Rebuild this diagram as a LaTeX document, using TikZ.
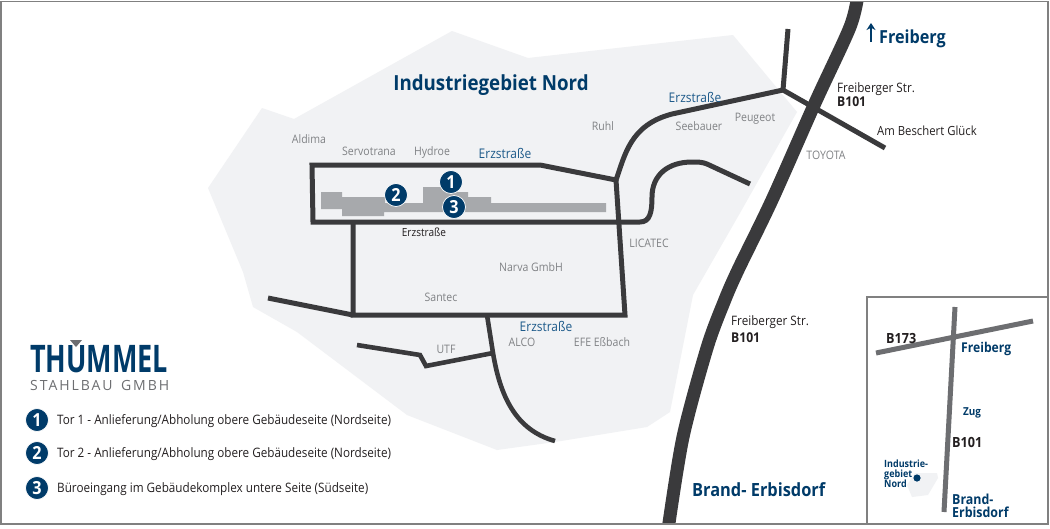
\documentclass[tikz,border=0pt]{standalone}
\usepackage{fontspec}
\usetikzlibrary{arrows.meta}
\setmainfont{Open Sans}[FakeStretch=0.9]
\newfontfamily\spaced{Open Sans}[LetterSpace=14,WordSpace=1.5]
\newfontfamily\logofont{Open Sans}
\definecolor{road}{HTML}{3A3A3C}
\definecolor{area}{HTML}{F1F2F4}
\definecolor{bldg}{HTML}{A7A9AC}
\definecolor{navy}{HTML}{003B69}
\definecolor{midblue}{HTML}{1D5A8A}
\definecolor{lab}{HTML}{808285}
\definecolor{ink}{HTML}{231F20}
\definecolor{frame}{HTML}{808080}
\definecolor{inset}{HTML}{6D6E71}
\newcommand{\fs}[1]{\fontsize{#1}{#1}\selectfont}
\tikzset{
 txt/.style={inner sep=0pt,text height=.72em,text depth=0pt},
 firm/.style={txt,text=lab,font=\fs{11.7},yshift=-.6pt},
 street/.style={txt,text=midblue,font=\fs{13.3},yshift=-1.2pt},
 dark/.style={txt,text=ink,font=\fs{13},anchor=west,yshift=-1.1pt},
 darkb/.style={txt,text=ink,font=\fs{13.5}\bfseries,anchor=west,yshift=-1.3pt},
 place/.style={txt,text=navy,font=\bfseries,anchor=west},
 legend/.style={txt,text=ink,font=\fs{13},anchor=west,yshift=-1.1pt},
 rd/.style={draw=road,line width=5pt,line join=miter},
 ir/.style={draw=inset,line width=5pt},
 num/.style={circle,fill=navy,draw=white,line width=.7pt,minimum size=23pt,inner sep=0pt,text=white,font=\fs{18}\bfseries},
}
\begin{document}
\begin{tikzpicture}[x=1pt,y=-1pt]
\useasboundingbox (0,0) rectangle (1050,528);
\fill[white] (0,0) rectangle (1050,528);
% industrial area
\fill[area] (452,31) -- (528,58) -- (733,35) -- (797,112) -- (740,213) -- (693,295) -- (670,412) -- (647,427) -- (555,442) -- (497,450) -- (407,415) -- (297,332) -- (253,307) -- (243,272) -- (208,188) -- (262,108) -- (294,119) -- cycle;
% building
\fill[bldg] (321,192) -- (342,192) -- (342,197) -- (385,197) -- (385,203) -- (423,203) -- (423,187) -- (452,187) -- (452,192) -- (468,192) -- (468,197) -- (491,197) -- (491,203) -- (606,203) -- (606,212) -- (384,212) -- (384,216) -- (342,216) -- (342,209) -- (321,209) -- cycle;
% roads
\coordinate (j1) at (616,180);
\coordinate (j2) at (783,90);
\coordinate (j3) at (353,315);
\coordinate (j4) at (625,315);
\coordinate (j5) at (353,222);
\coordinate (j6) at (493,353);
\draw[rd] (j1) -- (540,165) -- (312,165) -- (313,222) -- (640,222) .. controls (650,222) and (652,212) .. (652,197) .. controls (652,175) and (668,162) .. (692,162) .. controls (698,162) and (702,162) .. (707,164) -- (750,184);
\draw[rd] (j1) -- (j4) -- (j3) -- (j5);
\draw[rd] (268,298) -- (j3);
\draw[rd] (j1) .. controls (625,155) and (630,125) .. (672,114) -- (j2);
\draw[rd] (788,29) -- (j2) -- (885,148);
\draw[rd,line width=4.6pt] (487,315) -- (j6) .. controls (500,395) and (515,430) .. (555,441);
\draw[rd,line width=4.6pt] (357,345) -- (420,355) -- (426,366) -- (j6);
\begin{scope}
\clip (1,1.5) rectangle (1048,524);
\draw[draw=road,line width=13pt] plot[smooth,tension=.5] coordinates {(858,-6) (850,27) (815,103) (772,200) (738,270) (724,302) (707,348) (683,437) (668,530)};
\end{scope}
% frame
\draw[frame,line width=1.4pt] (1,1.5) rectangle (1048,524);
\draw[frame,line width=1.4pt] (867,297) rectangle (1048,524);
% top labels
\node[txt,text=navy,font=\fs{20.8}\bfseries,yshift=-3.9pt] (title) at (491,83) {Industriegebiet Nord};
\node[firm] (f1) at (309,139) {Aldima};
\node[firm] (f2) at (369,151) {Servotrana};
\node[firm] (f3) at (432,151) {Hydroe};
\node[firm] (f4) at (603,126) {Ruhl};
\node[firm] (f5) at (699,126) {Seebauer};
\node[firm] (f6) at (755,117) {Peugeot};
\node[firm] (f7) at (826,155) {TOYOTA};
\node[firm] (f8) at (649,243) {LICATEC};
\node[firm] (f9) at (531,267) {Narva GmbH};
\node[firm] (f10) at (441,297) {Santec};
\node[firm] (f11) at (446,349) {UTF};
\node[firm] (f12) at (522,342) {ALCO};
\node[firm] (f13) at (602,342) {EFE Eßbach};
\node[street] (s1) at (505,154) {Erzstraße};
\node[street] (s2) at (695,98) {Erzstraße};
\node[street] (s3) at (546,327) {Erzstraße};
\node[txt,text=ink,font=\fs{11.2},yshift=-.4pt] (s4) at (424,232) {Erzstraße};
\node[dark] (t1) at (837,88) {Freiberger Str.};
\node[darkb] (t2) at (837,102) {B101};
\node[dark,font=\fs{12.6}] (t3) at (877,131) {Am Beschert Glück};
\node[dark] (t4) at (731,321) {Freiberger Str.};
\node[darkb] (t5) at (731,338) {B101};
\node[place,font=\fs{18}\bfseries,yshift=-2.9pt] (p1) at (879,37) {Freiberg};
\node[place,font=\fs{18.2}\bfseries,yshift=-3pt] (p2) at (692,490) {Brand- Erbisdorf};
\coordinate (a1) at (871,42);
\coordinate (a2) at (871,23);
\draw[navy,line width=2pt,-{Stealth[length=7pt,width=9pt]}] (a1) -- (a2);
% site markers
\node[num] (n1) at (451,182) {1};
\node[num] (n2) at (396,195) {2};
\node[num] (n3) at (454,207) {3};
% logo
\node[inner sep=0pt,text=navy,anchor=base west] (logo) at (30,372) {\scalebox{.71}[1]{\logofont\fs{38}\bfseries THÜMMEL}};
\fill[white] (62,335) rectangle (90,344.5);
\fill[inset] (70,340) -- (82,340) -- (76,347) -- cycle;
\node[inner sep=0pt,text=inset,anchor=base west] (logo2) at (30,390) {\spaced\fs{14}STAHLBAU GMBH};
% legend
\node[num] (l1) at (37,420) {1};
\node[num] (l2) at (37,453) {2};
\node[num] (l3) at (37,488) {3};
\node[legend] (lt1) at (57,420) {Tor 1 - Anlieferung/Abholung obere Gebäudeseite (Nordseite)};
\node[legend] (lt2) at (57,453) {Tor 2 - Anlieferung/Abholung obere Gebäudeseite (Nordseite)};
\node[legend] (lt3) at (57,488) {Büroeingang im Gebäudekomplex untere Seite (Südseite)};
% inset
\fill[area] (907,485) -- (915,473) -- (937,473) -- (938,478) -- (928,495) -- (912,497) -- cycle;
\coordinate (i1) at (955,307);
\coordinate (i2) at (944,512);
\coordinate (i3) at (876,353);
\coordinate (i4) at (1033,321);
\draw[ir] (i3) -- (i4);
\draw[ir] (i1) -- (i2);
\fill[navy] (917,478) circle (3.6);
\node[darkb,font=\fs{14}\bfseries,yshift=-.1pt] (b1) at (886,338) {B173};
\node[place,font=\fs{13.5}\bfseries,yshift=-1.3pt] (b2) at (961,348) {Freiberg};
\node[place,font=\fs{11}\bfseries,yshift=-.4pt] (b3) at (963,411) {Zug};
\node[darkb,font=\fs{14}\bfseries,yshift=-.1pt] (b4) at (952,442) {B101};
\node[place,font=\fs{10}\bfseries] (b5) at (884,464) {Industrie-};
\node[place,font=\fs{10}\bfseries] (b6) at (884,474) {gebiet};
\node[place,font=\fs{10}\bfseries] (b7) at (884,484) {Nord};
\node[place,font=\fs{13.8}\bfseries,yshift=-1.4pt] (b8) at (952,499) {Brand-};
\node[place,font=\fs{13.8}\bfseries,yshift=-1.4pt] (b9) at (952,512) {Erbisdorf};
\end{tikzpicture}
\end{document}
